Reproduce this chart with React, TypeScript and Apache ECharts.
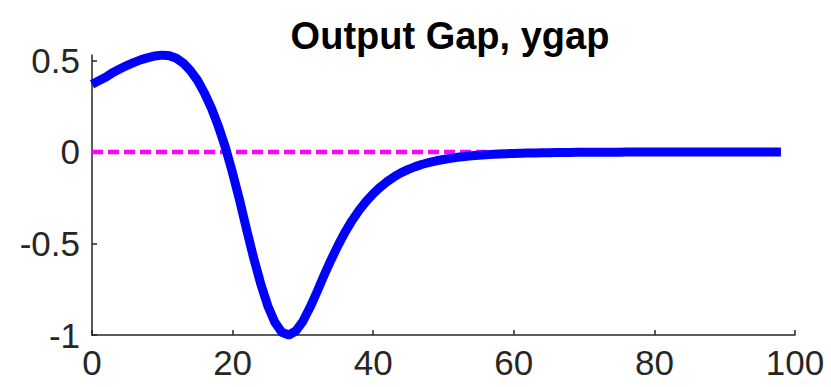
import React, { useEffect, useRef } from "react";
import * as echarts from "echarts";

const titleText = "Output Gap, ygap";
const xTicks = [0, 20, 40, 60, 80, 100];
const yTicks = [-1, -0.5, 0, 0.5];

const periods = [
  0, 1, 2, 3, 4, 5, 6, 7, 8, 9, 10, 11, 12, 13, 14, 15, 16, 17, 18, 19,
  20, 21, 22, 23, 24, 25, 26, 27, 28, 29, 30, 31, 32, 33, 34, 35, 36, 37, 38, 39,
  40, 41, 42, 43, 44, 45, 46, 47, 48, 49, 50, 51, 52, 53, 54, 55, 56, 57, 58, 59,
  60, 61, 62, 63, 64, 65, 66, 67, 68, 69, 70, 71, 72, 73, 74, 75, 76, 77, 78, 79,
  80, 81, 82, 83, 84, 85, 86, 87, 88, 89, 90, 91, 92, 93, 94, 95, 96, 97, 98,
];

const ygap = [
  0.37, 0.39, 0.41, 0.435, 0.455, 0.473, 0.49, 0.505, 0.516, 0.525,
  0.53, 0.526, 0.512, 0.485, 0.445, 0.392, 0.322, 0.238, 0.138, 0.022,
  -0.115, -0.265, -0.425, -0.58, -0.72, -0.84, -0.93, -0.985, -1.0, -0.978,
  -0.925, -0.85, -0.765, -0.675, -0.59, -0.51, -0.438, -0.374, -0.318, -0.27,
  -0.228, -0.192, -0.161, -0.135, -0.113, -0.095, -0.08, -0.067, -0.057, -0.048,
  -0.041, -0.035, -0.029, -0.025, -0.021, -0.018, -0.015, -0.013, -0.011, -0.009,
  -0.008, -0.007, -0.006, -0.005, -0.0043, -0.0037, -0.0031, -0.0027, -0.0023, -0.002,
  -0.0017, -0.0014, -0.0012, -0.001, -0.0009, -0.0008, -0.0007, -0.0006, -0.0005, -0.0004,
  -0.0003, -0.0003, -0.0002, -0.0002, -0.0002, -0.0001, -0.0001, -0.0001, -0.0001, -0.0001,
  0, 0, 0, 0, 0, 0, 0, 0, 0,
];

const zeroLine = [
  0, 0, 0, 0, 0, 0, 0, 0, 0, 0, 0, 0, 0, 0, 0, 0, 0, 0, 0, 0,
  0, 0, 0, 0, 0, 0, 0, 0, 0, 0, 0, 0, 0, 0, 0, 0, 0, 0, 0, 0,
  0, 0, 0, 0, 0, 0, 0, 0, 0, 0, 0, 0, 0, 0, 0, 0, 0, 0, 0, 0,
  0, 0, 0, 0, 0, 0, 0, 0, 0, 0, 0, 0, 0, 0, 0, 0, 0, 0, 0, 0,
  0, 0, 0, 0, 0, 0, 0, 0, 0, 0, 0, 0, 0, 0, 0, 0, 0, 0, 0,
];

const FONT = "'Liberation Sans', Arial, Helvetica, sans-serif";
const AXIS_COLOR = "#262626";

export default function App() {
  const ref = useRef<HTMLDivElement>(null);

  useEffect(() => {
    if (!ref.current) return;
    const chart = echarts.init(ref.current, undefined, { renderer: "svg" });
    chart.setOption({
      animation: false,
      backgroundColor: "#ffffff",
      title: {
        text: titleText,
        left: 445,
        textAlign: "center",
        top: 12,
        textStyle: {
          fontFamily: FONT,
          fontWeight: "bold",
          fontSize: 38,
          color: "#000000",
        },
      },
      grid: { left: 92, right: 36, top: 55, bottom: 52, containLabel: false },
      xAxis: {
        type: "value",
        min: 0,
        max: 100,
        interval: 20,
        axisLine: { show: true, onZero: false, lineStyle: { color: AXIS_COLOR, width: 1.5 } },
        axisTick: {
          show: true,
          inside: true,
          length: 5,
          lineStyle: { color: AXIS_COLOR, width: 1.5 },
          customValues: xTicks,
        },
        axisLabel: {
          customValues: xTicks,
          fontFamily: FONT,
          fontSize: 35,
          color: AXIS_COLOR,
          margin: 10,
        },
        splitLine: { show: false },
      },
      yAxis: {
        type: "value",
        min: -1,
        max: 0.53,
        interval: 0.5,
        axisLine: { show: true, onZero: false, lineStyle: { color: AXIS_COLOR, width: 1.5 } },
        axisTick: {
          show: true,
          inside: true,
          length: 5,
          lineStyle: { color: AXIS_COLOR, width: 1.5 },
          customValues: yTicks,
        },
        axisLabel: {
          customValues: yTicks,
          fontFamily: FONT,
          fontSize: 35,
          color: AXIS_COLOR,
          margin: 12,
          formatter: (v: number) => String(v),
        },
        splitLine: { show: false },
      },
      series: [
        {
          type: "line",
          data: periods.map((p, i) => [p, zeroLine[i]]),
          showSymbol: false,
          lineStyle: { color: "#ff00ff", width: 4.5, type: [11, 5], cap: "butt" },
          z: 2,
        },
        {
          type: "line",
          data: periods.map((p, i) => [p, ygap[i]]),
          showSymbol: false,
          smooth: false,
          lineStyle: { color: "#0000ff", width: 9, cap: "butt", join: "round" },
          z: 3,
        },
      ],
    });
    return () => chart.dispose();
  }, []);

  return (
    <div
      ref={ref}
      style={{ position: "fixed", left: 0, top: 0, width: 831, height: 387 }}
    />
  );
}
